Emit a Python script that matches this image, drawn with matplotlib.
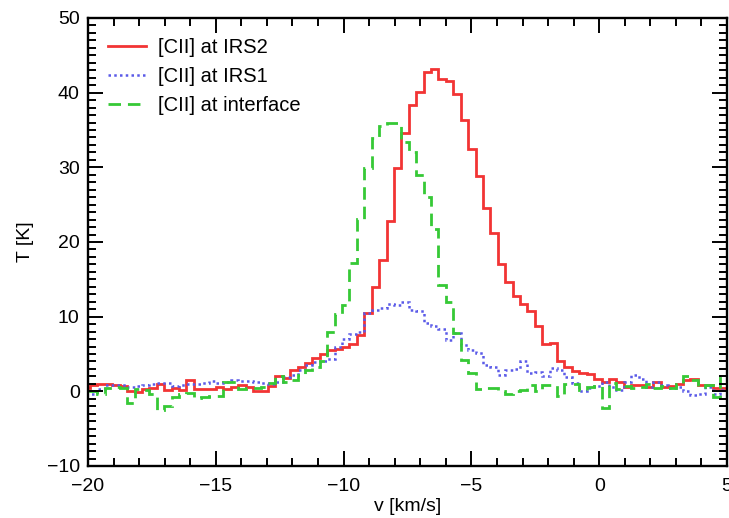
import numpy as np
import matplotlib.pyplot as plt
from matplotlib.ticker import MultipleLocator

plt.rcParams['font.family'] = ['Liberation Sans', 'DejaVu Sans']

# spectral channels: first edge and width [km/s]
v_start = -20.21
dv = 0.29

# [CII] brightness temperatures per channel [K]
t_irs2 = [0.5, 0.85, 1.0, 1.0, 0.85, 0.7, 0.1, -0.1, 0.3, 0.5,
          1.0, 0.2, 0.5, 0.2, 1.5, 0.3, 0.3, 0.3, 0.6, 0.3,
          0.6, 0.8, 0.6, 0.1, 0.1, 0.7, 2.0, 1.8, 2.9, 3.2,
          3.8, 4.4, 5.0, 5.5, 5.7, 6.0, 6.3, 7.5, 10.5, 14.0,
          17.6, 22.8, 29.9, 34.6, 38.3, 40.1, 42.7, 43.2, 41.8, 41.5,
          39.8, 36.3, 32.4, 28.8, 24.5, 21.2, 17.0, 14.6, 12.7, 11.7,
          10.8, 8.8, 6.4, 6.5, 4.0, 3.3, 2.7, 2.5, 2.3, 1.6,
          1.3, 1.65, 1.2, 0.6, 0.8, 0.9, 0.6, 1.3, 0.6, 0.7,
          1.0, 1.5, 1.7, 0.9, 0.9, 0.4, 0.4]

t_irs1 = [-0.3, -0.3, 0.3, 0.85, 0.85, 0.8, 0.6, 0.7, 0.85, 0.95,
          1.05, 1.15, 0.7, 0.85, 1.0, 1.0, 1.15, 1.4, 1.15, 1.3,
          1.5, 1.4, 1.4, 1.3, 1.15, 1.0, 1.3, 1.9, 2.2, 2.8,
          3.5, 3.9, 4.0, 4.3, 6.0, 7.0, 7.7, 8.0, 10.45, 10.9,
          11.1, 11.7, 11.6, 11.9, 10.9, 10.7, 9.1, 8.7, 8.3, 6.9,
          7.8, 6.2, 5.5, 5.1, 3.5, 3.3, 2.2, 2.9, 3.0, 4.0,
          2.4, 2.6, 2.1, 3.1, 2.8, 1.9, 1.1, 0.1, 0.5, 0.7,
          1.3, 0.6, 0.2, 1.3, 2.2, 1.6, 0.6, 1.3, 0.85, 0.4,
          0.6, 0.0, -0.5, -0.3, 0.6, -0.3, 0.2]

t_interface = [1.0, 0.0, -0.4, 0.4, 0.6, 0.5, -1.5, 0.3, 0.2, -0.3,
               -2.5, -2.0, -0.8, -0.3, -0.2, -0.9, -0.8, -0.6, -0.6, 1.2,
               1.3, 0.3, 0.4, 0.4, 0.6, 1.1, 2.0, 1.2, 1.5, 2.2,
               2.8, 3.3, 4.0, 8.0, 10.4, 11.6, 17.2, 23.1, 29.9, 33.9,
               35.5, 35.9, 35.9, 33.4, 32.0, 29.0, 26.0, 21.8, 14.2, 11.9,
               7.8, 4.2, 2.5, 0.3, 0.4, 0.4, 0.1, -0.35, 0.0, 0.2,
               0.85, 0.1, 0.9, 0.8, -0.6, 1.0, 1.0, 0.2, 0.6, 0.7,
               -2.3, 1.1, 0.3, 0.7, 0.4, 0.6, 1.0, 0.5, 0.7, 0.4,
               1.0, 2.0, 1.5, 0.6, 0.85, -0.7, 2.0]

edges = v_start + dv * np.arange(len(t_irs2) + 1)

fig = plt.figure(figsize=(7.29, 5.18), dpi=100)
ax = fig.add_axes([0.1207, 0.1004, 0.8766, 0.8649])

ax.stairs(t_irs2, edges, color='#f23434', lw=2.0, label='[CII] at IRS2')
ax.stairs(t_irs1, edges, color='#5a5ae8', lw=1.8, ls=(0, (1, 1.3)),
          label='[CII] at IRS1')
ax.stairs(t_interface, edges, color='#36c936', lw=2.0, ls=(0, (4.5, 2.5)),
          label='[CII] at interface')

ax.set_xlim(-20, 5)
ax.set_ylim(-10, 50)
ax.xaxis.set_major_locator(MultipleLocator(5))
ax.xaxis.set_minor_locator(MultipleLocator(1))
ax.yaxis.set_major_locator(MultipleLocator(10))
ax.yaxis.set_minor_locator(MultipleLocator(1))
ax.tick_params(which='both', direction='in', top=True, right=True,
               width=1.4, labelsize=14)
ax.tick_params(which='major', length=11)
ax.tick_params(axis='x', which='major', pad=9)
ax.tick_params(axis='y', which='major', pad=6)
ax.tick_params(which='minor', length=5.5)
for s in ax.spines.values():
    s.set_linewidth(1.7)

ax.set_xlabel('v [km/s]', fontsize=14, labelpad=2)
ax.set_ylabel('T [K]', fontsize=14, labelpad=9)

ax.legend(loc='upper left', frameon=False, fontsize=14.5, handlelength=1.9,
          handletextpad=0.6, labelspacing=0.5, borderaxespad=0.5,
          borderpad=0.5)

fig.savefig('out.png', dpi=100)
